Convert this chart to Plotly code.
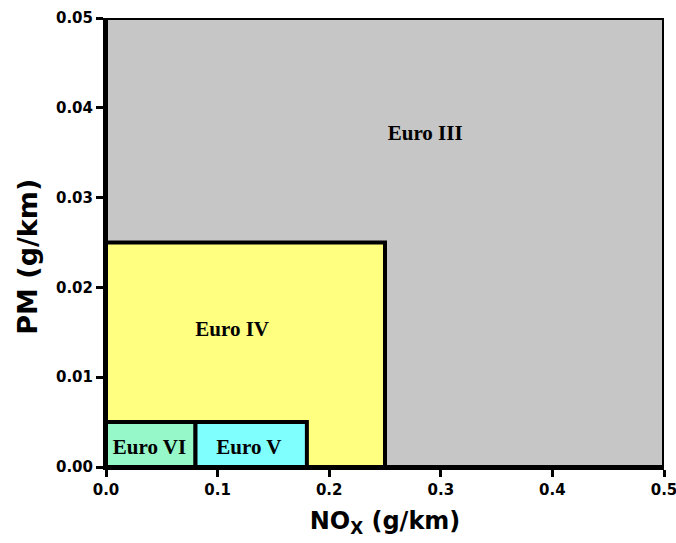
import plotly.graph_objects as go

names = ["Euro III", "Euro IV", "Euro V", "Euro VI"]
nox_lo = [0.0, 0.0, 0.08, 0.0]
nox_hi = [0.5, 0.25, 0.18, 0.08]
pm_lo = [0.0, 0.0, 0.0, 0.0]
pm_hi = [0.05, 0.025, 0.005, 0.005]
colors = ["#C6C6C6", "#FFFF80", "#80FFFF", "#96F7C8"]
label_x = [0.286, 0.113, 0.128, 0.039]
label_y = [0.037, 0.0152, 0.0020, 0.0020]

fig = go.Figure()
for i, n in enumerate(names):
    fig.add_trace(go.Scatter(
        x=[nox_lo[i], nox_hi[i], nox_hi[i], nox_lo[i], nox_lo[i]],
        y=[pm_lo[i], pm_lo[i], pm_hi[i], pm_hi[i], pm_lo[i]],
        mode="lines", fill="toself", fillcolor=colors[i],
        line=dict(color="black", width=4), name=n, hoverinfo="skip"))
fig.add_trace(go.Scatter(
    x=label_x, y=label_y, mode="text", text=names,
    textfont=dict(family="Liberation Serif", size=21, color="black"),
    texttemplate="<b>%{text}</b>", hoverinfo="skip"))

fig.update_layout(
    width=676, height=543, showlegend=False,
    plot_bgcolor="white", paper_bgcolor="white",
    margin=dict(l=106, r=12, t=18, b=76),
    font=dict(family="DejaVu Sans", color="black"),
)
fig.add_annotation(text="<b>PM (g/km)</b>", xref="paper", yref="paper",
                   x=-0.14, y=0.468, xanchor="center", yanchor="middle",
                   textangle=-90, showarrow=False,
                   font=dict(size=27, family="DejaVu Sans", color="black"))
fig.update_xaxes(range=[0, 0.5], tickvals=[0, 0.1, 0.2, 0.3, 0.4, 0.5], tickformat=".1f",
                 automargin=False, ticklabeloverflow="allow",
                 showgrid=False, zeroline=False, showline=True, linecolor="black", linewidth=3,
                 ticks="outside", ticklen=7, tickwidth=3, tickcolor="black",
                 tickfont=dict(size=15, family="DejaVu Sans", weight="bold"),
                 title=dict(text="<b>NO<sub>X</sub> (g/km)</b>", font=dict(size=24), standoff=15))
fig.update_yaxes(range=[0, 0.05], tickvals=[0, 0.01, 0.02, 0.03, 0.04, 0.05], tickformat=".2f",
                 automargin=False, ticklabeloverflow="allow",
                 showgrid=False, zeroline=False, showline=True, linecolor="black", linewidth=3,
                 ticks="outside", ticklen=7, tickwidth=3, tickcolor="black",
                 tickfont=dict(size=15, family="DejaVu Sans", weight="bold"))
fig.write_html("out.html")
